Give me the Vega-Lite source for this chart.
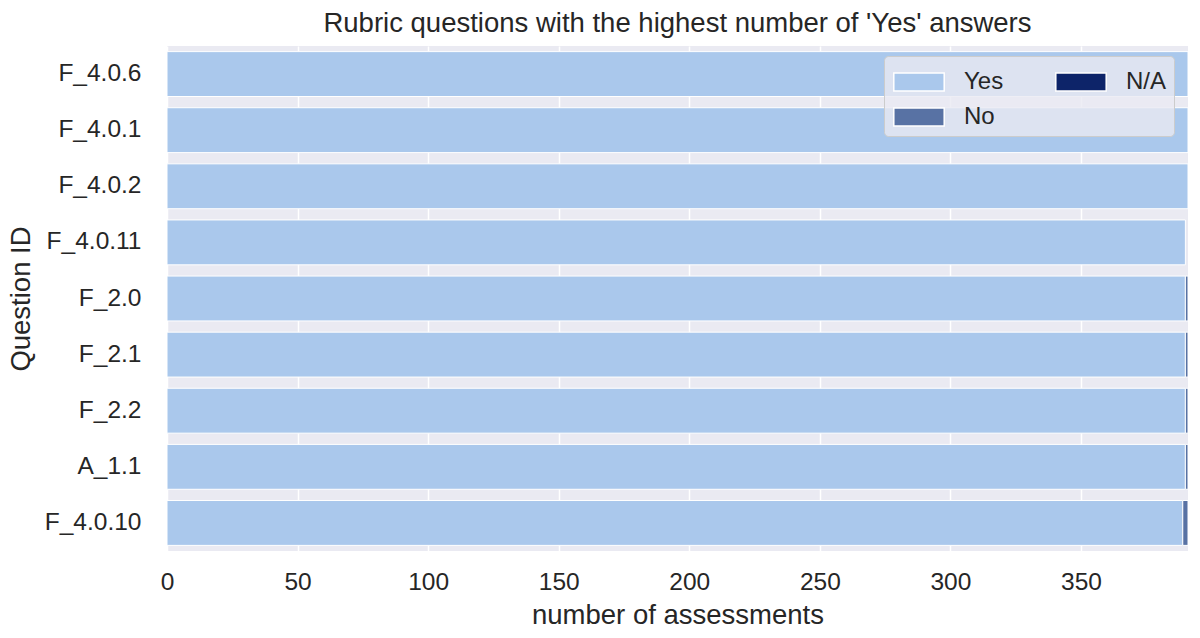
{
  "$schema": "https://vega.github.io/schema/vega-lite/v6.json",
  "width": 1021,
  "height": 505,
  "autosize": {"type": "none"},
  "padding": {"left": 167, "top": 46, "right": 12, "bottom": 87},
  "background": "white",
  "config": {
    "font": "Liberation Sans",
    "view": {"fill": "#EAEAF2", "stroke": null},
    "axis": {"labelColor": "#262626", "titleColor": "#262626", "labelFont": "Liberation Sans", "titleFont": "Liberation Sans", "titleFontWeight": "normal"}
  },
  "title": {
    "text": "Rubric questions with the highest number of 'Yes' answers",
    "fontSize": 27.5,
    "fontWeight": "normal",
    "color": "#262626",
    "anchor": "middle",
    "offset": 9
  },
  "data": {
    "values": [
      {"question": "F_4.0.6", "answer": "Yes", "count": 391},
      {"question": "F_4.0.1", "answer": "Yes", "count": 391},
      {"question": "F_4.0.2", "answer": "Yes", "count": 391},
      {"question": "F_4.0.11", "answer": "Yes", "count": 390},
      {"question": "F_2.0", "answer": "Yes", "count": 390},
      {"question": "F_2.0", "answer": "No", "count": 1},
      {"question": "F_2.1", "answer": "Yes", "count": 390},
      {"question": "F_2.1", "answer": "No", "count": 1},
      {"question": "F_2.2", "answer": "Yes", "count": 390},
      {"question": "F_2.2", "answer": "No", "count": 1},
      {"question": "A_1.1", "answer": "Yes", "count": 390},
      {"question": "A_1.1", "answer": "No", "count": 1},
      {"question": "F_4.0.10", "answer": "Yes", "count": 389},
      {"question": "F_4.0.10", "answer": "No", "count": 2}
    ]
  },
  "mark": {"type": "bar", "stroke": "white", "strokeWidth": 1},
  "encoding": {
    "y": {
      "field": "question",
      "type": "nominal",
      "sort": ["F_4.0.6", "F_4.0.1", "F_4.0.2", "F_4.0.11", "F_2.0", "F_2.1", "F_2.2", "A_1.1", "F_4.0.10"],
      "scale": {"paddingInner": 0.2, "paddingOuter": 0.1},
      "axis": {
        "title": "Question ID",
        "titleFontSize": 27.5,
        "titlePadding": 9,
        "labelFontSize": 24.5,
        "labelPadding": 26,
        "ticks": false,
        "domain": false,
        "grid": false
      }
    },
    "x": {
      "field": "count",
      "type": "quantitative",
      "stack": "zero",
      "scale": {"domain": [0, 391], "nice": false, "zero": true},
      "axis": {
        "title": "number of assessments",
        "titleFontSize": 27.5,
        "titlePadding": 8,
        "labelFontSize": 24.5,
        "labelPadding": 19,
        "labelFlush": false,
        "values": [0, 50, 100, 150, 200, 250, 300, 350],
        "ticks": false,
        "domain": false,
        "grid": true,
        "gridColor": "white",
        "gridWidth": 1.5
      }
    },
    "color": {
      "field": "answer",
      "type": "nominal",
      "scale": {"domain": ["Yes", "No", "N/A"], "range": ["#aac8ec", "#5872a4", "#0d2469"]},
      "legend": {
        "title": null,
        "orient": "none",
        "legendX": 717,
        "legendY": 10,
        "columns": 2,
        "direction": "vertical",
        "columnPadding": 48,
        "rowPadding": 4,
        "padding": 7,
        "fillColor": "rgba(234,234,242,0.8)",
        "strokeColor": "#cccccc",
        "cornerRadius": 4,
        "labelFontSize": 24,
        "labelColor": "#262626",
        "labelOffset": 26,
        "symbolOffset": 9,
        "symbolType": "M-1.4,-0.5H1.4V0.5H-1.4Z",
        "symbolSize": 1296,
        "symbolStrokeColor": "white",
        "symbolStrokeWidth": 1.5,
        "symbolOpacity": 1
      }
    },
    "order": {"field": "answer", "sort": "descending"}
  }
}
